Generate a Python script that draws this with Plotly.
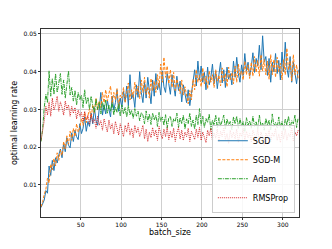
import plotly.graph_objects as go

batch_size = list(range(1, 320, 2))

sgd = [
    0.0040, 0.0052, 0.0060, 0.0085, 0.0078, 0.0150, 0.0125, 0.0165, 0.0138, 0.0172,
    0.0158, 0.0180, 0.0195, 0.0172, 0.0210, 0.0188, 0.0225, 0.0205, 0.0198, 0.0238,
    0.0215, 0.0245, 0.0228, 0.0220, 0.0262, 0.0236, 0.0250, 0.0280, 0.0242, 0.0268,
    0.0255, 0.0290, 0.0262, 0.0305, 0.0270, 0.0258, 0.0300, 0.0345, 0.0285, 0.0312,
    0.0288, 0.0325, 0.0300, 0.0280, 0.0335, 0.0298, 0.0318, 0.0352, 0.0295, 0.0330,
    0.0305, 0.0348, 0.0320, 0.0362, 0.0310, 0.0392, 0.0328, 0.0340, 0.0305, 0.0365,
    0.0332, 0.0400, 0.0345, 0.0318, 0.0372, 0.0330, 0.0385, 0.0342, 0.0315, 0.0378,
    0.0335, 0.0395, 0.0352, 0.0370, 0.0338, 0.0402, 0.0360, 0.0345, 0.0395, 0.0368,
    0.0340, 0.0392, 0.0362, 0.0335, 0.0388, 0.0350, 0.0375, 0.0320, 0.0365, 0.0338,
    0.0318, 0.0352, 0.0310, 0.0342, 0.0372, 0.0405, 0.0362, 0.0428, 0.0378, 0.0415,
    0.0372, 0.0398, 0.0352, 0.0412, 0.0365, 0.0385, 0.0420, 0.0368, 0.0402, 0.0355,
    0.0392, 0.0425, 0.0370, 0.0405, 0.0358, 0.0412, 0.0380, 0.0395, 0.0365, 0.0428,
    0.0385, 0.0438, 0.0395, 0.0372, 0.0418, 0.0390, 0.0448, 0.0402, 0.0425, 0.0388,
    0.0412, 0.0450, 0.0398, 0.0435, 0.0415, 0.0470, 0.0405, 0.0495, 0.0425, 0.0440,
    0.0390, 0.0435, 0.0372, 0.0425, 0.0400, 0.0448, 0.0395, 0.0430, 0.0378, 0.0452,
    0.0400, 0.0478, 0.0410, 0.0385, 0.0440, 0.0372, 0.0425, 0.0395, 0.0368, 0.0405,
]

sgd_m = [
    0.0042, 0.0055, 0.0075, 0.0088, 0.0118, 0.0105, 0.0155, 0.0140, 0.0170, 0.0150,
    0.0185, 0.0165, 0.0192, 0.0178, 0.0215, 0.0195, 0.0230, 0.0208, 0.0242, 0.0218,
    0.0250, 0.0228, 0.0262, 0.0240, 0.0252, 0.0275, 0.0258, 0.0292, 0.0265, 0.0280,
    0.0302, 0.0276, 0.0312, 0.0290, 0.0330, 0.0298, 0.0322, 0.0305, 0.0345, 0.0318,
    0.0352, 0.0322, 0.0340, 0.0362, 0.0315, 0.0345, 0.0325, 0.0355, 0.0305, 0.0338,
    0.0330, 0.0358, 0.0318, 0.0345, 0.0370, 0.0325, 0.0352, 0.0332, 0.0372, 0.0340,
    0.0362, 0.0328, 0.0378, 0.0345, 0.0385, 0.0340, 0.0360, 0.0330, 0.0382, 0.0350,
    0.0375, 0.0345, 0.0392, 0.0358, 0.0420, 0.0372, 0.0438, 0.0385, 0.0415, 0.0368,
    0.0405, 0.0358, 0.0398, 0.0350, 0.0380, 0.0362, 0.0342, 0.0378, 0.0338, 0.0360,
    0.0335, 0.0315, 0.0350, 0.0325, 0.0380, 0.0352, 0.0405, 0.0372, 0.0390, 0.0360,
    0.0410, 0.0368, 0.0388, 0.0355, 0.0402, 0.0372, 0.0392, 0.0358, 0.0405, 0.0375,
    0.0390, 0.0362, 0.0410, 0.0375, 0.0395, 0.0360, 0.0412, 0.0378, 0.0398, 0.0368,
    0.0415, 0.0372, 0.0420, 0.0390, 0.0402, 0.0378, 0.0428, 0.0392, 0.0418, 0.0382,
    0.0425, 0.0388, 0.0440, 0.0398, 0.0430, 0.0388, 0.0445, 0.0402, 0.0432, 0.0392,
    0.0428, 0.0380, 0.0445, 0.0392, 0.0432, 0.0385, 0.0438, 0.0400, 0.0422, 0.0378,
    0.0432, 0.0392, 0.0462, 0.0405, 0.0428, 0.0375, 0.0445, 0.0392, 0.0418, 0.0380,
]

adam = [
    0.0215, 0.0248, 0.0305, 0.0340, 0.0318, 0.0402, 0.0335, 0.0382, 0.0340, 0.0395,
    0.0345, 0.0372, 0.0395, 0.0340, 0.0378, 0.0330, 0.0365, 0.0402, 0.0338, 0.0358,
    0.0322, 0.0350, 0.0312, 0.0345, 0.0325, 0.0338, 0.0305, 0.0352, 0.0315, 0.0332,
    0.0300, 0.0335, 0.0310, 0.0292, 0.0328, 0.0300, 0.0318, 0.0288, 0.0320, 0.0298,
    0.0325, 0.0290, 0.0312, 0.0295, 0.0318, 0.0285, 0.0306, 0.0292, 0.0315, 0.0282,
    0.0312, 0.0288, 0.0305, 0.0280, 0.0310, 0.0285, 0.0298, 0.0276, 0.0302, 0.0282,
    0.0295, 0.0270, 0.0292, 0.0285, 0.0262, 0.0296, 0.0268, 0.0288, 0.0260, 0.0290,
    0.0272, 0.0285, 0.0255, 0.0292, 0.0268, 0.0280, 0.0258, 0.0286, 0.0250, 0.0278,
    0.0282, 0.0255, 0.0275, 0.0268, 0.0290, 0.0252, 0.0278, 0.0262, 0.0285, 0.0248,
    0.0275, 0.0262, 0.0290, 0.0255, 0.0272, 0.0248, 0.0285, 0.0260, 0.0302, 0.0258,
    0.0282, 0.0252, 0.0276, 0.0265, 0.0288, 0.0245, 0.0272, 0.0258, 0.0285, 0.0250,
    0.0278, 0.0255, 0.0270, 0.0285, 0.0248, 0.0275, 0.0258, 0.0268, 0.0245, 0.0280,
    0.0262, 0.0282, 0.0250, 0.0276, 0.0255, 0.0268, 0.0242, 0.0278, 0.0258, 0.0270,
    0.0250, 0.0282, 0.0255, 0.0268, 0.0248, 0.0285, 0.0256, 0.0264, 0.0245, 0.0276,
    0.0258, 0.0272, 0.0246, 0.0288, 0.0255, 0.0266, 0.0250, 0.0280, 0.0252, 0.0268,
    0.0245, 0.0275, 0.0258, 0.0282, 0.0250, 0.0270, 0.0262, 0.0285, 0.0252, 0.0278,
]

rmsprop = [
    0.0218, 0.0240, 0.0270, 0.0308, 0.0285, 0.0320, 0.0282, 0.0330, 0.0298, 0.0312,
    0.0335, 0.0295, 0.0320, 0.0305, 0.0285, 0.0322, 0.0300, 0.0312, 0.0282, 0.0308,
    0.0290, 0.0305, 0.0275, 0.0298, 0.0282, 0.0292, 0.0268, 0.0295, 0.0272, 0.0285,
    0.0260, 0.0288, 0.0265, 0.0275, 0.0250, 0.0282, 0.0258, 0.0270, 0.0245, 0.0275,
    0.0255, 0.0240, 0.0272, 0.0248, 0.0262, 0.0235, 0.0268, 0.0245, 0.0232, 0.0262,
    0.0245, 0.0228, 0.0258, 0.0240, 0.0265, 0.0232, 0.0250, 0.0225, 0.0258, 0.0238,
    0.0252, 0.0228, 0.0242, 0.0258, 0.0222, 0.0248, 0.0215, 0.0240, 0.0225, 0.0252,
    0.0230, 0.0245, 0.0218, 0.0255, 0.0235, 0.0222, 0.0248, 0.0228, 0.0252, 0.0220,
    0.0242, 0.0225, 0.0250, 0.0215, 0.0238, 0.0252, 0.0222, 0.0245, 0.0218, 0.0240,
    0.0228, 0.0250, 0.0215, 0.0242, 0.0232, 0.0220, 0.0248, 0.0226, 0.0252, 0.0218,
    0.0240, 0.0225, 0.0212, 0.0245, 0.0230, 0.0250, 0.0218, 0.0238, 0.0224, 0.0248,
    0.0215, 0.0242, 0.0228, 0.0252, 0.0220, 0.0236, 0.0210, 0.0245, 0.0225, 0.0240,
    0.0222, 0.0248, 0.0212, 0.0238, 0.0228, 0.0250, 0.0218, 0.0242, 0.0225, 0.0236,
    0.0215, 0.0245, 0.0230, 0.0220, 0.0248, 0.0212, 0.0240, 0.0226, 0.0205, 0.0238,
    0.0225, 0.0246, 0.0215, 0.0238, 0.0228, 0.0250, 0.0218, 0.0235, 0.0212, 0.0242,
    0.0222, 0.0248, 0.0218, 0.0236, 0.0228, 0.0252, 0.0215, 0.0240, 0.0230, 0.0245,
]

series = [
    ("SGD", sgd, "#1f77b4", "solid"),
    ("SGD-M", sgd_m, "#ff7f0e", "3px,1.5px"),
    ("Adam", adam, "#2ca02c", "4px,1px,1px,1px"),
    ("RMSProp", rmsprop, "#d62728", "1px,1px"),
]

fig = go.Figure()
for name, vals, color, dash in series:
    fig.add_trace(go.Scatter(
        x=batch_size, y=vals, mode="lines", name=name,
        line=dict(color=color, width=1, dash=dash),
    ))

axis_common = dict(
    showline=True, linecolor="#333333", linewidth=1, mirror=True,
    showgrid=True, gridcolor="#cfcfcf", gridwidth=1,
    ticks="outside", ticklen=2, tickcolor="#333333", tickwidth=1,
    zeroline=False, tickfont=dict(size=6, color="#000000"),
)

fig.update_layout(
    width=332, height=249,
    margin=dict(l=41, r=33, t=29, b=32),
    paper_bgcolor="white", plot_bgcolor="white",
    font=dict(family="DejaVu Sans", color="#000000"),
    showlegend=True,
    legend=dict(
        x=0.984, y=0.02, xanchor="right", yanchor="bottom",
        bgcolor="rgba(255,255,255,0.85)", bordercolor="#cccccc", borderwidth=1,
        font=dict(size=8), tracegroupgap=0,
    ),
    xaxis=dict(
        range=[1, 320], tickvals=[50, 100, 150, 200, 250, 300],
        title=dict(text="batch_size", font=dict(size=8), standoff=2),
        **axis_common,
    ),
    yaxis=dict(
        range=[0.0015, 0.0513], tickvals=[0.01, 0.02, 0.03, 0.04, 0.05],
        ticktext=["0.01", "0.02", "0.03", "0.04", "0.05"],
        title=dict(text="optimal learning rate", font=dict(size=8), standoff=4),
        **axis_common,
    ),
)

fig.write_html(
    "out.html",
    config={"displayModeBar": False},
    post_script="document.body.style.margin='0';",
)
